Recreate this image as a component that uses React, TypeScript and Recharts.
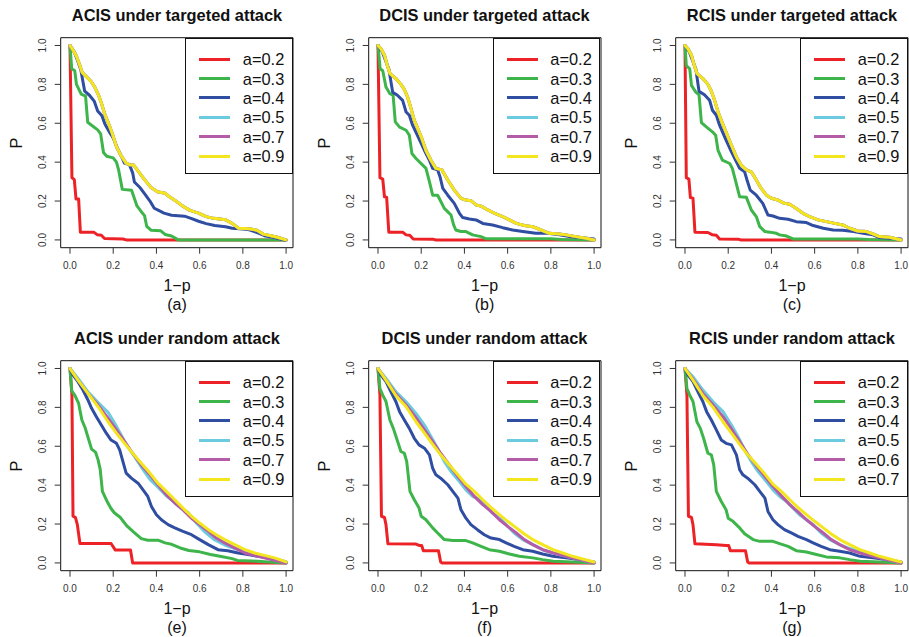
import React from "react";
import { LineChart, Line, XAxis, YAxis, ReferenceArea, Legend } from "recharts";

// colours used by every panel, in legend order
const lineColors = ["#EC2227", "#3DB54A", "#2F4EA2", "#6CCBDE", "#B45CA8", "#F3E61E"];

const labelsMain = ["a=0.2", "a=0.3", "a=0.4", "a=0.5", "a=0.7", "a=0.9"];
const labelsRcisRandom = ["a=0.2", "a=0.3", "a=0.4", "a=0.5", "a=0.6", "a=0.7"];

const axisTicks = [0, 0.2, 0.4, 0.6, 0.8, 1];

const titles = [
    "ACIS under targeted attack",
    "DCIS under targeted attack",
    "RCIS under targeted attack",
    "ACIS under random attack",
    "DCIS under random attack",
    "RCIS under random attack",
];
const captions = ["(a)", "(b)", "(c)", "(e)", "(f)", "(g)"];

// ---- (a) ACIS targeted: [1-p, P]
const aRed = [[0, 1], [0.009, 0.32], [0.02, 0.31], [0.028, 0.21], [0.04, 0.21], [0.048, 0.04], [0.11, 0.04], [0.127, 0.026], [0.145, 0.024], [0.16, 0.007], [0.245, 0.005], [0.26, 0], [1, 0]];
const aGreen = [[0, 1], [0.008, 0.88], [0.022, 0.87], [0.03, 0.8], [0.052, 0.75], [0.072, 0.74], [0.082, 0.605], [0.1, 0.59], [0.128, 0.566], [0.142, 0.545], [0.155, 0.45], [0.17, 0.43], [0.2, 0.422], [0.215, 0.4], [0.225, 0.36], [0.242, 0.26], [0.285, 0.255], [0.31, 0.175], [0.33, 0.145], [0.345, 0.125], [0.355, 0.07], [0.375, 0.05], [0.42, 0.047], [0.44, 0.028], [0.47, 0.02], [0.495, 0.004], [0.5, 0], [1, 0]];
const aBlue = [[0, 1], [0.02, 0.967], [0.037, 0.916], [0.05, 0.875], [0.068, 0.765], [0.09, 0.744], [0.112, 0.714], [0.128, 0.663], [0.148, 0.638], [0.162, 0.595], [0.185, 0.55], [0.2, 0.525], [0.22, 0.47], [0.238, 0.43], [0.252, 0.395], [0.275, 0.387], [0.29, 0.345], [0.298, 0.298], [0.325, 0.268], [0.35, 0.23], [0.37, 0.2], [0.39, 0.163], [0.41, 0.152], [0.435, 0.138], [0.47, 0.127], [0.53, 0.122], [0.56, 0.111], [0.595, 0.096], [0.63, 0.084], [0.67, 0.074], [0.72, 0.068], [0.75, 0.06], [0.8, 0.056], [0.83, 0.052], [0.875, 0.034], [0.905, 0.02], [0.945, 0.012], [0.975, 0.004], [1, 0]];
// a=0.5, 0.7 and 0.9 lie on top of each other
const aTop = [[0, 1], [0.015, 0.975], [0.03, 0.945], [0.045, 0.9], [0.056, 0.862], [0.076, 0.84], [0.098, 0.815], [0.115, 0.785], [0.13, 0.75], [0.145, 0.705], [0.16, 0.65], [0.178, 0.6], [0.195, 0.55], [0.215, 0.48], [0.238, 0.43], [0.26, 0.395], [0.275, 0.387], [0.295, 0.385], [0.318, 0.35], [0.345, 0.31], [0.375, 0.27], [0.405, 0.248], [0.44, 0.24], [0.46, 0.222], [0.49, 0.2], [0.52, 0.175], [0.555, 0.152], [0.595, 0.138], [0.63, 0.12], [0.665, 0.111], [0.72, 0.104], [0.75, 0.085], [0.78, 0.06], [0.83, 0.057], [0.865, 0.05], [0.895, 0.03], [0.935, 0.02], [0.96, 0.014], [1, 0]];

// ---- (b) DCIS targeted
const bRed = [[0, 1], [0.009, 0.32], [0.022, 0.313], [0.03, 0.222], [0.04, 0.22], [0.05, 0.04], [0.114, 0.04], [0.13, 0.026], [0.147, 0.024], [0.163, 0.005], [0.253, 0.004], [0.268, 0], [1, 0]];
const bGreen = [[0, 1], [0.01, 0.88], [0.022, 0.87], [0.037, 0.786], [0.055, 0.752], [0.07, 0.744], [0.08, 0.607], [0.1, 0.58], [0.13, 0.564], [0.145, 0.538], [0.157, 0.444], [0.176, 0.419], [0.207, 0.385], [0.222, 0.368], [0.238, 0.3], [0.253, 0.23], [0.276, 0.23], [0.307, 0.162], [0.338, 0.128], [0.35, 0.077], [0.36, 0.051], [0.384, 0.043], [0.407, 0.043], [0.438, 0.026], [0.477, 0.017], [0.5, 0.006], [0.8, 0.006], [0.85, 0.002], [1, 0]];
const bBlue = [[0, 1], [0.02, 0.967], [0.037, 0.916], [0.05, 0.88], [0.068, 0.76], [0.09, 0.744], [0.114, 0.718], [0.13, 0.658], [0.145, 0.641], [0.16, 0.59], [0.19, 0.52], [0.215, 0.46], [0.238, 0.41], [0.253, 0.368], [0.276, 0.36], [0.287, 0.325], [0.3, 0.265], [0.323, 0.23], [0.353, 0.188], [0.377, 0.137], [0.392, 0.115], [0.423, 0.108], [0.454, 0.103], [0.485, 0.085], [0.53, 0.077], [0.577, 0.063], [0.623, 0.051], [0.67, 0.043], [0.73, 0.034], [0.785, 0.034], [0.84, 0.026], [0.886, 0.017], [0.932, 0.012], [1, 0.005]];
const bTop = [[0, 1], [0.014, 0.983], [0.03, 0.95], [0.045, 0.89], [0.056, 0.855], [0.083, 0.83], [0.106, 0.8], [0.12, 0.778], [0.137, 0.735], [0.153, 0.675], [0.168, 0.615], [0.184, 0.573], [0.2, 0.53], [0.222, 0.46], [0.245, 0.41], [0.268, 0.368], [0.296, 0.36], [0.323, 0.308], [0.353, 0.256], [0.384, 0.214], [0.407, 0.205], [0.43, 0.202], [0.454, 0.18], [0.477, 0.174], [0.508, 0.154], [0.54, 0.137], [0.577, 0.12], [0.608, 0.103], [0.64, 0.085], [0.677, 0.074], [0.716, 0.068], [0.755, 0.051], [0.793, 0.034], [0.84, 0.031], [0.87, 0.026], [0.917, 0.017], [0.963, 0.009], [1, 0]];

// ---- (c) RCIS targeted
const cRed = [[0, 1], [0.006, 0.32], [0.018, 0.313], [0.025, 0.218], [0.037, 0.215], [0.046, 0.04], [0.106, 0.038], [0.127, 0.026], [0.145, 0.024], [0.16, 0.005], [0.245, 0.004], [0.26, 0], [1, 0]];
const cGreen = [[0, 1], [0.006, 0.897], [0.022, 0.88], [0.03, 0.795], [0.05, 0.76], [0.065, 0.746], [0.076, 0.603], [0.1, 0.58], [0.127, 0.556], [0.142, 0.538], [0.153, 0.46], [0.173, 0.41], [0.207, 0.393], [0.219, 0.368], [0.235, 0.3], [0.253, 0.222], [0.284, 0.219], [0.307, 0.154], [0.33, 0.12], [0.346, 0.068], [0.37, 0.043], [0.392, 0.04], [0.423, 0.034], [0.438, 0.026], [0.47, 0.02], [0.5, 0.005], [0.8, 0.005], [0.85, 0.002], [1, 0]];
const cBlue = [[0, 1], [0.02, 0.967], [0.037, 0.916], [0.05, 0.88], [0.065, 0.764], [0.09, 0.747], [0.114, 0.718], [0.127, 0.667], [0.145, 0.641], [0.16, 0.59], [0.19, 0.513], [0.215, 0.453], [0.238, 0.402], [0.253, 0.368], [0.276, 0.35], [0.287, 0.308], [0.302, 0.256], [0.33, 0.23], [0.36, 0.188], [0.384, 0.128], [0.407, 0.123], [0.438, 0.111], [0.477, 0.106], [0.515, 0.094], [0.562, 0.089], [0.593, 0.074], [0.64, 0.06], [0.685, 0.051], [0.73, 0.05], [0.78, 0.043], [0.824, 0.034], [0.87, 0.026], [0.9, 0.012], [0.947, 0.009], [1, 0.005]];
const cTop = [[0, 1], [0.014, 0.983], [0.03, 0.95], [0.045, 0.89], [0.056, 0.855], [0.083, 0.83], [0.106, 0.8], [0.12, 0.77], [0.137, 0.718], [0.153, 0.658], [0.168, 0.615], [0.19, 0.555], [0.215, 0.487], [0.238, 0.427], [0.26, 0.385], [0.284, 0.36], [0.307, 0.35], [0.33, 0.308], [0.353, 0.265], [0.377, 0.23], [0.4, 0.214], [0.43, 0.205], [0.46, 0.188], [0.485, 0.183], [0.515, 0.162], [0.546, 0.137], [0.577, 0.12], [0.616, 0.103], [0.654, 0.094], [0.693, 0.085], [0.73, 0.077], [0.762, 0.06], [0.8, 0.046], [0.84, 0.043], [0.87, 0.031], [0.9, 0.017], [0.947, 0.014], [1, 0]];

// ---- (e) ACIS random
const eRed = [[0, 1], [0.009, 0.863], [0.014, 0.24], [0.025, 0.234], [0.034, 0.197], [0.046, 0.1], [0.19, 0.1], [0.21, 0.066], [0.28, 0.066], [0.29, 0], [1, 0]];
const eGreen = [[0, 1], [0.008, 0.885], [0.022, 0.863], [0.04, 0.82], [0.055, 0.735], [0.07, 0.695], [0.085, 0.64], [0.1, 0.585], [0.118, 0.57], [0.13, 0.53], [0.14, 0.48], [0.15, 0.368], [0.17, 0.32], [0.19, 0.28], [0.205, 0.258], [0.232, 0.235], [0.262, 0.192], [0.295, 0.158], [0.33, 0.125], [0.36, 0.117], [0.41, 0.116], [0.44, 0.103], [0.47, 0.096], [0.51, 0.077], [0.55, 0.064], [0.6, 0.057], [0.65, 0.043], [0.7, 0.033], [0.75, 0.022], [0.775, 0.013], [0.84, 0.01], [0.9, 0.006], [1, 0]];
const eBlue = [[0, 1], [0.014, 0.966], [0.037, 0.932], [0.06, 0.889], [0.083, 0.838], [0.1, 0.795], [0.122, 0.752], [0.145, 0.709], [0.168, 0.667], [0.19, 0.632], [0.215, 0.615], [0.23, 0.581], [0.245, 0.521], [0.26, 0.462], [0.284, 0.436], [0.315, 0.41], [0.338, 0.376], [0.36, 0.342], [0.377, 0.29], [0.4, 0.248], [0.423, 0.222], [0.454, 0.197], [0.485, 0.18], [0.523, 0.162], [0.562, 0.145], [0.6, 0.12], [0.64, 0.094], [0.685, 0.068], [0.73, 0.063], [0.778, 0.051], [0.824, 0.043], [0.87, 0.034], [0.917, 0.026], [0.963, 0.017], [1, 0.005]];
const eCyan = [[0, 1], [0.037, 0.949], [0.083, 0.88], [0.13, 0.825], [0.176, 0.775], [0.207, 0.718], [0.238, 0.655], [0.268, 0.595], [0.3, 0.545], [0.338, 0.48], [0.37, 0.43], [0.407, 0.39], [0.446, 0.345], [0.485, 0.31], [0.515, 0.28], [0.546, 0.26], [0.585, 0.205], [0.623, 0.16], [0.67, 0.118], [0.716, 0.092], [0.762, 0.074], [0.81, 0.058], [0.855, 0.045], [0.9, 0.03], [0.947, 0.017], [1, 0]];
const ePurple = [[0, 1], [0.037, 0.94], [0.083, 0.872], [0.13, 0.812], [0.176, 0.744], [0.215, 0.684], [0.253, 0.624], [0.29, 0.564], [0.33, 0.504], [0.37, 0.453], [0.407, 0.402], [0.446, 0.35], [0.485, 0.308], [0.523, 0.273], [0.562, 0.23], [0.6, 0.197], [0.64, 0.162], [0.677, 0.128], [0.716, 0.103], [0.762, 0.077], [0.81, 0.051], [0.87, 0.034], [0.932, 0.017], [1, 0]];
const eYellow = [[0, 1], [0.037, 0.94], [0.083, 0.872], [0.13, 0.803], [0.176, 0.726], [0.215, 0.667], [0.253, 0.615], [0.29, 0.564], [0.33, 0.513], [0.37, 0.462], [0.407, 0.41], [0.446, 0.368], [0.485, 0.325], [0.523, 0.282], [0.562, 0.24], [0.6, 0.205], [0.64, 0.171], [0.677, 0.145], [0.716, 0.12], [0.762, 0.094], [0.81, 0.068], [0.855, 0.051], [0.9, 0.039], [0.947, 0.026], [1, 0.005]];

// ---- (f) DCIS random
const fRed = [[0, 1], [0.009, 0.863], [0.016, 0.24], [0.03, 0.234], [0.037, 0.197], [0.046, 0.098], [0.176, 0.097], [0.19, 0.09], [0.202, 0.09], [0.21, 0.063], [0.28, 0.063], [0.29, 0.005], [0.297, 0], [1, 0]];
const fGreen = [[0, 1], [0.009, 0.897], [0.022, 0.863], [0.037, 0.83], [0.055, 0.735], [0.071, 0.692], [0.086, 0.641], [0.106, 0.573], [0.122, 0.564], [0.133, 0.521], [0.148, 0.368], [0.168, 0.325], [0.19, 0.282], [0.2, 0.24], [0.222, 0.222], [0.253, 0.18], [0.276, 0.154], [0.307, 0.12], [0.346, 0.115], [0.407, 0.115], [0.438, 0.103], [0.477, 0.085], [0.515, 0.068], [0.562, 0.06], [0.608, 0.046], [0.654, 0.034], [0.716, 0.026], [0.762, 0.017], [0.81, 0.009], [0.9, 0.005], [1, 0]];
const fBlue = [[0, 1], [0.014, 0.966], [0.037, 0.932], [0.06, 0.88], [0.083, 0.829], [0.1, 0.778], [0.122, 0.735], [0.145, 0.692], [0.168, 0.641], [0.19, 0.607], [0.215, 0.59], [0.238, 0.556], [0.253, 0.487], [0.268, 0.453], [0.29, 0.436], [0.323, 0.402], [0.346, 0.368], [0.37, 0.333], [0.384, 0.273], [0.407, 0.23], [0.43, 0.197], [0.46, 0.171], [0.492, 0.145], [0.523, 0.128], [0.562, 0.12], [0.593, 0.103], [0.63, 0.085], [0.67, 0.068], [0.716, 0.06], [0.762, 0.046], [0.81, 0.034], [0.87, 0.026], [0.932, 0.017], [1, 0.005]];
const fCyan = [[0, 1], [0.037, 0.949], [0.083, 0.88], [0.13, 0.829], [0.176, 0.769], [0.215, 0.709], [0.245, 0.65], [0.276, 0.59], [0.307, 0.521], [0.338, 0.47], [0.37, 0.427], [0.407, 0.376], [0.438, 0.342], [0.47, 0.325], [0.5, 0.29], [0.53, 0.256], [0.562, 0.23], [0.593, 0.197], [0.63, 0.154], [0.67, 0.12], [0.716, 0.094], [0.762, 0.068], [0.81, 0.051], [0.87, 0.034], [0.932, 0.017], [1, 0]];
const fPurple = [[0, 1], [0.037, 0.94], [0.083, 0.868], [0.13, 0.812], [0.176, 0.747], [0.215, 0.684], [0.253, 0.624], [0.29, 0.564], [0.33, 0.504], [0.37, 0.444], [0.407, 0.393], [0.446, 0.342], [0.485, 0.3], [0.523, 0.265], [0.562, 0.222], [0.6, 0.188], [0.64, 0.154], [0.677, 0.12], [0.716, 0.094], [0.762, 0.068], [0.81, 0.051], [0.87, 0.034], [0.932, 0.017], [1, 0]];
const fYellow = [[0, 1], [0.037, 0.94], [0.083, 0.86], [0.13, 0.803], [0.176, 0.726], [0.215, 0.667], [0.253, 0.61], [0.29, 0.556], [0.33, 0.504], [0.37, 0.453], [0.407, 0.405], [0.446, 0.368], [0.485, 0.325], [0.523, 0.285], [0.562, 0.248], [0.6, 0.214], [0.64, 0.18], [0.677, 0.149], [0.716, 0.12], [0.762, 0.094], [0.81, 0.068], [0.855, 0.051], [0.9, 0.034], [0.947, 0.02], [1, 0.005]];

// ---- (g) RCIS random
const gRed = [[0, 1], [0.009, 0.863], [0.016, 0.24], [0.03, 0.234], [0.037, 0.197], [0.046, 0.098], [0.145, 0.094], [0.19, 0.09], [0.202, 0.09], [0.21, 0.063], [0.28, 0.063], [0.29, 0.005], [0.297, 0], [1, 0]];
const gGreen = [[0, 1], [0.009, 0.897], [0.022, 0.863], [0.037, 0.83], [0.055, 0.726], [0.071, 0.692], [0.086, 0.641], [0.106, 0.564], [0.122, 0.556], [0.133, 0.504], [0.145, 0.368], [0.168, 0.316], [0.19, 0.274], [0.2, 0.23], [0.222, 0.214], [0.253, 0.18], [0.276, 0.15], [0.315, 0.12], [0.346, 0.111], [0.407, 0.111], [0.438, 0.099], [0.477, 0.085], [0.515, 0.063], [0.562, 0.056], [0.608, 0.043], [0.654, 0.031], [0.716, 0.026], [0.762, 0.017], [0.81, 0.009], [0.9, 0.005], [1, 0]];
const gBlue = [[0, 1], [0.014, 0.966], [0.037, 0.932], [0.06, 0.88], [0.083, 0.829], [0.1, 0.778], [0.122, 0.735], [0.145, 0.684], [0.168, 0.632], [0.19, 0.615], [0.215, 0.607], [0.238, 0.556], [0.253, 0.479], [0.268, 0.453], [0.29, 0.436], [0.323, 0.402], [0.346, 0.368], [0.37, 0.333], [0.384, 0.265], [0.407, 0.222], [0.43, 0.197], [0.46, 0.171], [0.492, 0.154], [0.523, 0.137], [0.562, 0.12], [0.593, 0.103], [0.63, 0.085], [0.67, 0.068], [0.716, 0.06], [0.762, 0.051], [0.81, 0.034], [0.87, 0.026], [0.932, 0.017], [1, 0.005]];
const gCyan = [[0, 1], [0.037, 0.957], [0.083, 0.889], [0.13, 0.829], [0.176, 0.778], [0.215, 0.709], [0.245, 0.65], [0.276, 0.581], [0.307, 0.521], [0.338, 0.47], [0.37, 0.427], [0.407, 0.376], [0.438, 0.342], [0.47, 0.316], [0.5, 0.282], [0.53, 0.248], [0.562, 0.222], [0.593, 0.197], [0.63, 0.154], [0.67, 0.12], [0.716, 0.094], [0.762, 0.074], [0.81, 0.056], [0.87, 0.039], [0.932, 0.017], [1, 0]];
const gPurple = [[0, 1], [0.037, 0.945], [0.083, 0.872], [0.13, 0.812], [0.176, 0.752], [0.215, 0.688], [0.253, 0.624], [0.29, 0.56], [0.33, 0.5], [0.37, 0.444], [0.407, 0.393], [0.446, 0.345], [0.485, 0.3], [0.523, 0.262], [0.562, 0.222], [0.6, 0.188], [0.64, 0.154], [0.677, 0.12], [0.716, 0.094], [0.762, 0.068], [0.81, 0.051], [0.87, 0.034], [0.932, 0.017], [1, 0]];
const gYellow = [[0, 1], [0.037, 0.94], [0.083, 0.86], [0.13, 0.8], [0.176, 0.726], [0.215, 0.667], [0.253, 0.61], [0.29, 0.556], [0.33, 0.508], [0.37, 0.457], [0.407, 0.405], [0.446, 0.368], [0.485, 0.325], [0.523, 0.285], [0.562, 0.248], [0.6, 0.214], [0.64, 0.18], [0.677, 0.149], [0.716, 0.12], [0.762, 0.094], [0.81, 0.068], [0.855, 0.051], [0.9, 0.034], [0.947, 0.02], [1, 0.005]];

const panelSeries = [
    [aRed, aGreen, aBlue, aTop, aTop, aTop],
    [bRed, bGreen, bBlue, bTop, bTop, bTop],
    [cRed, cGreen, cBlue, cTop, cTop, cTop],
    [eRed, eGreen, eBlue, eCyan, ePurple, eYellow],
    [fRed, fGreen, fBlue, fCyan, fPurple, fYellow],
    [gRed, gGreen, gBlue, gCyan, gPurple, gYellow],
];
const panelLabels = [labelsMain, labelsMain, labelsMain, labelsMain, labelsMain, labelsRcisRandom];

const FONT = "'Liberation Sans', Arial, Helvetica, sans-serif";
const CHART_W = 300;
const CHART_H = 323;
const COL_STEP = 307.5;
const ROW_STEP = 323;

const toPoints = (arr: number[][]) => arr.map(([x, y]) => ({ x, y }));

const XTick = (props: any) => {
    const { x, y, payload } = props;
    return (
        <text x={x} y={y} dy="0.71em" textAnchor="middle" fontSize={10} fill="#333" fontFamily={FONT}>
            {Number(payload.value).toFixed(1)}
        </text>
    );
};

const YTick = (props: any) => {
    const { x, y, payload } = props;
    return (
        <text
            transform={`translate(${x},${y}) rotate(-90)`}
            textAnchor="middle"
            fontSize={10}
            fill="#333"
            fontFamily={FONT}
        >
            {Number(payload.value).toFixed(1)}
        </text>
    );
};

const LegendBox = (props: any) => {
    const items = props.payload || [];
    return (
        <div
            style={{
                width: 107.7,
                height: 136,
                border: "1px solid #111",
                boxSizing: "border-box",
                background: "#fff",
                position: "relative",
                fontFamily: FONT,
            }}
        >
            {items.map((it: any, i: number) => (
                <div
                    key={i}
                    style={{
                        position: "absolute",
                        left: 0,
                        top: 10.6 + i * 19.35,
                        height: 20,
                        display: "flex",
                        alignItems: "center",
                    }}
                >
                    <div style={{ marginLeft: 13, width: 31, height: 3, background: it.color }} />
                    <span style={{ marginLeft: 12.5, fontSize: 16.4, lineHeight: "20px", color: "#111" }}>
                        {it.value}
                    </span>
                </div>
            ))}
        </div>
    );
};

const bottomText = (top: number): React.CSSProperties => ({
    position: "absolute",
    left: 61,
    width: 232,
    top,
    textAlign: "center",
    fontSize: 16,
    lineHeight: "18.4px",
    height: 18.4,
    color: "#111",
});

function Panel({ index }: { index: number }) {
    const col = index % 3;
    const row = Math.floor(index / 3);
    const series = panelSeries[index];
    const labels = panelLabels[index];

    return (
        <div
            style={{
                position: "absolute",
                left: col * COL_STEP,
                top: row * ROW_STEP,
                width: CHART_W,
                height: CHART_H,
                fontFamily: FONT,
            }}
        >
            {/* TITLE */}
            <div
                style={{
                    position: "absolute",
                    left: 61,
                    width: 232,
                    top: 4.5,
                    textAlign: "center",
                    fontWeight: "bold",
                    fontSize: 16.4,
                    lineHeight: "20px",
                    color: "#111",
                    whiteSpace: "nowrap",
                }}
            >
                {titles[index]}
            </div>

            <LineChart
                width={CHART_W}
                height={CHART_H}
                margin={{ top: 37.7, right: 7, bottom: 45.3, left: 20.7 }}
            >
                <XAxis
                    type="number"
                    dataKey="x"
                    domain={[-0.043, 1.032]}
                    ticks={axisTicks}
                    interval={0}
                    allowDataOverflow
                    axisLine={false}
                    tickLine={{ stroke: "#333" }}
                    tickSize={6}
                    tickMargin={8}
                    height={30}
                    tick={<XTick />}
                />
                <YAxis
                    type="number"
                    dataKey="y"
                    domain={[-0.04, 1.04]}
                    ticks={axisTicks}
                    interval={0}
                    allowDataOverflow
                    axisLine={false}
                    tickLine={{ stroke: "#333" }}
                    tickSize={6}
                    tickMargin={9}
                    width={40}
                    tick={<YTick />}
                />

                <ReferenceArea
                    x1={-0.043}
                    x2={1.032}
                    y1={-0.04}
                    y2={1.04}
                    fill="none"
                    stroke="#111"
                    strokeWidth={1}
                    fillOpacity={0}
                    ifOverflow="visible"
                />

                {series.map((pts, i) => (
                    <Line
                        key={labels[i]}
                        name={labels[i]}
                        data={toPoints(pts)}
                        dataKey="y"
                        type="linear"
                        stroke={lineColors[i]}
                        strokeWidth={3}
                        strokeLinejoin="round"
                        strokeLinecap="round"
                        dot={false}
                        activeDot={false}
                        isAnimationActive={false}
                    />
                ))}

                <Legend
                    layout="vertical"
                    align="center"
                    verticalAlign="middle"
                    content={<LegendBox />}
                    wrapperStyle={{ left: 185.3, top: 37.7, width: 107.7, height: 136 }}
                />
            </LineChart>

            {/* Y LABEL */}
            <div
                style={{
                    position: "absolute",
                    left: 6,
                    top: 133,
                    width: 20,
                    height: 20,
                    lineHeight: "20px",
                    textAlign: "center",
                    fontSize: 16.4,
                    color: "#111",
                    transform: "rotate(-90deg)",
                }}
            >
                P
            </div>

            {/* X LABEL + CAPTION */}
            <div style={bottomText(276.8)}>1−p</div>
            <div style={bottomText(295.6)}>{captions[index]}</div>
        </div>
    );
}

export default function App() {
    return (
        <div
            style={{
                position: "absolute",
                left: 0,
                top: 0,
                width: 909,
                height: 637,
                overflow: "hidden",
                background: "#fff",
            }}
        >
            {titles.map((t, i) => (
                <Panel key={t} index={i} />
            ))}
        </div>
    );
}
